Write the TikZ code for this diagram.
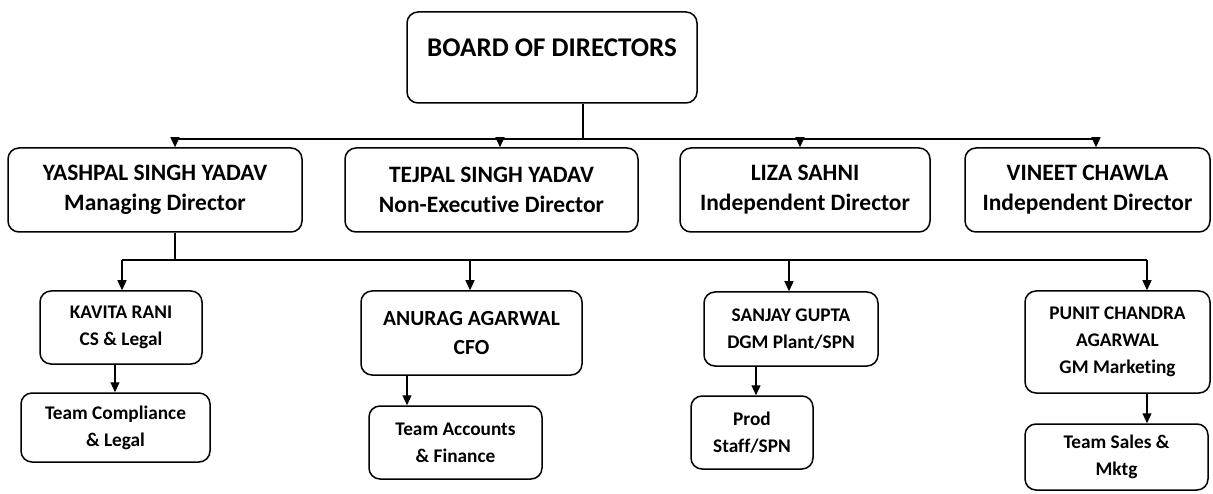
\documentclass[tikz,border=0pt]{standalone}
\usepackage{fontspec}
\setmainfont{Carlito}[Ligatures={NoCommon}]
\usetikzlibrary{arrows.meta}
\begin{document}
\begin{tikzpicture}[x=1pt,y=-1pt,
  box/.style={draw, line width=1.5pt, rounded corners=11pt, fill=white, align=center, inner sep=0pt, font=\bfseries},
  fa/.style={font=\fontsize{27}{30}\selectfont\bfseries},
  fb/.style={font=\fontsize{23.5}{30}\selectfont\bfseries},
  fc/.style={font=\fontsize{19.3}{27}\selectfont\bfseries},
  fd/.style={font=\fontsize{21.5}{29}\selectfont\bfseries},
  ln/.style={line width=1.2pt},
  arr/.style={line width=1.2pt, -{Triangle[length=10pt,width=9pt]}}]
\useasboundingbox (0,0) rectangle (1213,494);
% top
\node[box,fa,minimum width=290pt,minimum height=91pt] (board) at (552,57.5) {\raisebox{20pt}{BOARD OF DIRECTORS}};
% row 1
\node[box,fb,minimum width=294pt,minimum height=84pt] (yash) at (155,190) {YASHPAL SINGH YADAV\\Managing Director};
\node[box,fb,minimum width=293pt,minimum height=84pt] (tej) at (491.5,190) {TEJPAL SINGH YADAV\\Non-Executive Director};
\node[box,fb,minimum width=250pt,minimum height=84pt] (liza) at (805,190) {LIZA SAHNI\\Independent Director};
\node[box,fb,minimum width=245pt,minimum height=84pt] (vin) at (1087.5,190) {VINEET CHAWLA\\Independent Director};
% row 2
\node[box,fc,minimum width=162pt,minimum height=73pt] (kav) at (121,327.5) {KAVITA RANI\\CS \& Legal};
\node[box,fd,minimum width=221pt,minimum height=84pt] (anu) at (471.5,333) {ANURAG AGARWAL\\CFO};
\node[box,fc,minimum width=174pt,minimum height=74pt] (san) at (791,329) {SANJAY GUPTA\\DGM Plant/SPN};
\node[box,fc,minimum width=185pt,minimum height=102pt] (pun) at (1117.5,342) {PUNIT CHANDRA\\AGARWAL\\GM Marketing};
% row 3
\node[box,fc,minimum width=189pt,minimum height=69pt] (tc) at (115.5,427.5) {Team Compliance\\\& Legal};
\node[box,fc,minimum width=173pt,minimum height=73pt] (ta) at (455.5,442.5) {Team Accounts\\\& Finance};
\node[box,fc,minimum width=122pt,minimum height=73pt] (ps) at (752,432.5) {Prod\\Staff/SPN};
\node[box,fc,minimum width=183pt,minimum height=66pt] (ts) at (1116.5,457) {Team Sales \&\\Mktg};
% bus 1
\coordinate (b0) at (583,139);
\coordinate (j1) at (175,139);
\coordinate (j2) at (500,139);
\coordinate (j3) at (800,139);
\coordinate (j4) at (1096,139);
\draw[ln] (board.south -| b0) -- (b0);
\draw[ln] (j1) -- (j4);
\draw[arr] (j1) -- (j1 |- yash.north);
\draw[arr] (j2) -- (j2 |- tej.north);
\draw[arr] (j3) -- (j3 |- liza.north);
\draw[arr] (j4) -- (j4 |- vin.north);
% bus 2
\coordinate (k0) at (175,260);
\coordinate (k1) at (122,260);
\coordinate (k2) at (470,260);
\coordinate (k3) at (789,260);
\coordinate (k4) at (1147,260);
\draw[ln] (yash.south -| k0) -- (k0);
\draw[ln] (k1) -- (k4);
\draw[arr] (k1) -- (k1 |- kav.north);
\draw[arr] (k2) -- (k2 |- anu.north);
\draw[arr] (k3) -- (k3 |- san.north);
\draw[arr] (k4) -- (k4 |- pun.north);
% row 2 to row 3
\coordinate (m1) at (115,0);
\coordinate (m2) at (407,0);
\coordinate (m3) at (756,0);
\coordinate (m4) at (1147,0);
\draw[arr] (kav.south -| m1) -- (tc.north -| m1);
\draw[arr] (anu.south -| m2) -- (ta.north -| m2);
\draw[arr] (san.south -| m3) -- (ps.north -| m3);
\draw[arr] (pun.south -| m4) -- (ts.north -| m4);
\end{tikzpicture}
\end{document}
